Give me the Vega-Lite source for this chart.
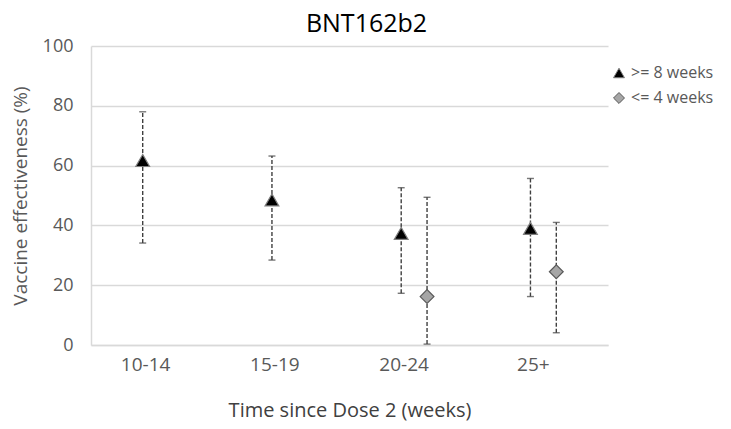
{
  "$schema": "https://vega.github.io/schema/vega-lite/v6.json",
  "autosize": "none",
  "width": 517,
  "height": 299,
  "padding": {"left": 91, "top": 46, "right": 123, "bottom": 84},
  "background": "white",
  "title": {"text": "BNT162b2", "font": "Open Sans", "fontSize": 25, "fontWeight": "normal", "color": "#000000", "offset": 0, "anchor": "middle", "dx": 17},
  "data": {"values": [
    {"period": "10-14", "series": ">= 8 weeks", "ve": 61.7, "lo": 34.1, "hi": 78.0},
    {"period": "15-19", "series": ">= 8 weeks", "ve": 48.5, "lo": 28.4, "hi": 63.2},
    {"period": "20-24", "series": ">= 8 weeks", "ve": 37.3, "lo": 17.3, "hi": 52.6},
    {"period": "20-24", "series": "<= 4 weeks", "ve": 16.2, "lo": 0.3, "hi": 49.4},
    {"period": "25+", "series": ">= 8 weeks", "ve": 39.0, "lo": 16.2, "hi": 55.7},
    {"period": "25+", "series": "<= 4 weeks", "ve": 24.5, "lo": 4.1, "hi": 41.0}
  ]},
  "config": {
    "view": {"stroke": null},
    "axis": {"labelFont": "Open Sans", "titleFont": "Open Sans", "labelColor": "#595959", "titleColor": "#404040", "titleFontWeight": "normal", "labelFontSize": 18, "titleFontSize": 19, "ticks": false, "domainColor": "#d9d9d9", "gridColor": "#d9d9d9", "gridWidth": 1.5},
    "legend": {"labelFont": "Open Sans", "labelFontSize": 16, "labelColor": "#595959"}
  },
  "encoding": {
    "x": {"field": "period", "type": "nominal", "sort": ["10-14", "15-19", "20-24", "25+"],
      "scale": {"paddingInner": 0.6, "paddingOuter": 0.3},
      "axis": {"title": "Time since Dose 2 (weeks)", "titleFontSize": 20, "labelFontSize": 19, "labelAngle": 0, "labelPadding": 10, "titleY": 65, "titleBaseline": "middle", "labelOffset": -10, "grid": false, "domainWidth": 1.5}},
    "xOffset": {"field": "series", "type": "nominal", "sort": [">= 8 weeks", "<= 4 weeks"]}
  },
  "layer": [
    {
      "mark": {"type": "rule", "color": "#404040", "strokeWidth": 1.4, "strokeDash": [4, 2]},
      "encoding": {
        "y": {"field": "lo", "type": "quantitative", "scale": {"domain": [0, 100]},
          "axis": {"title": "Vaccine effectiveness (%)", "titleColor": "#595959", "values": [0, 20, 40, 60, 80, 100], "labelPadding": 18, "titlePadding": 12, "domainWidth": 1.5}},
        "y2": {"field": "hi"}
      }
    },
    {
      "mark": {"type": "tick", "color": "#404040", "thickness": 1.4, "size": 7, "orient": "horizontal"},
      "encoding": {"y": {"field": "lo", "type": "quantitative"}}
    },
    {
      "mark": {"type": "tick", "color": "#404040", "thickness": 1.4, "size": 7, "orient": "horizontal"},
      "encoding": {"y": {"field": "hi", "type": "quantitative"}}
    },
    {
      "mark": {"type": "point", "filled": true, "size": 190, "strokeWidth": 1.2, "opacity": 1},
      "encoding": {
        "y": {"field": "ve", "type": "quantitative"},
        "shape": {"field": "series", "type": "nominal", "scale": {"domain": [">= 8 weeks", "<= 4 weeks"], "range": ["triangle-up", "diamond"]}, "legend": {"title": null, "orient": "none", "legendX": 520, "legendY": 19, "symbolSize": 120, "rowPadding": 9, "symbolStrokeWidth": 1}},
        "fill": {"field": "series", "type": "nominal", "scale": {"domain": [">= 8 weeks", "<= 4 weeks"], "range": ["#000000", "#a6a6a6"]}, "legend": null},
        "stroke": {"field": "series", "type": "nominal", "scale": {"domain": [">= 8 weeks", "<= 4 weeks"], "range": ["#7f7f7f", "#595959"]}, "legend": null}
      }
    }
  ]
}
